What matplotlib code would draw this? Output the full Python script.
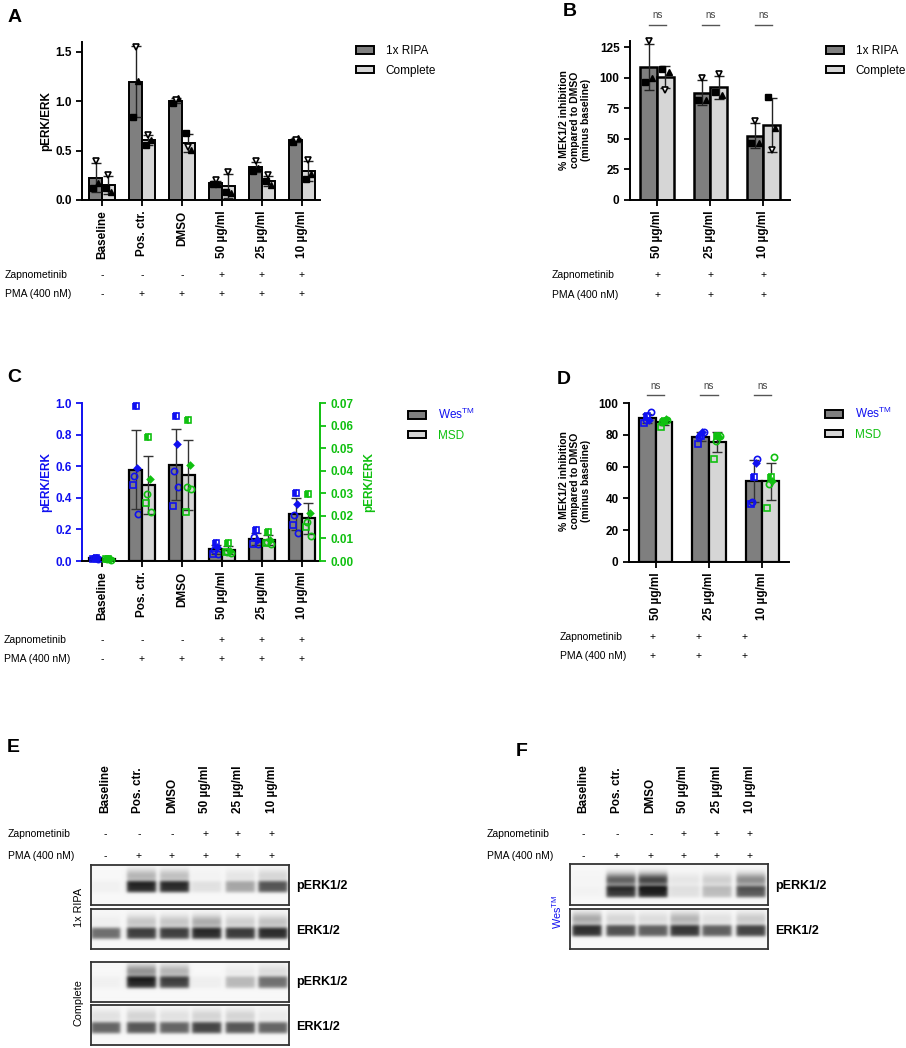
import numpy as np
import matplotlib
matplotlib.use('Agg')
import matplotlib.pyplot as plt
import matplotlib.transforms as mtransforms
from matplotlib.patches import Patch

plt.rcParams['font.family'] = ['Liberation Sans', 'DejaVu Sans']
plt.rcParams['mathtext.default'] = 'regular'

# ----------------------------- DATA -----------------------------
groups_A = ['Baseline', 'Pos. ctr.', 'DMSO', '50 µg/ml', '25 µg/ml', '10 µg/ml']
zap_A = ['-', '-', '-', '+', '+', '+']
pma_A = ['-', '+', '+', '+', '+', '+']

# Panel A: replicates (square, triangle-up, triangle-down)
A_ripa_sq = [0.12, 0.84, 0.98, 0.16, 0.29, 0.59]
A_ripa_up = [0.17, 1.21, 1.03, 0.16, 0.32, 0.63]
A_ripa_dn = [0.39, 1.55, 1.01, 0.20, 0.39, 0.61]
A_comp_sq = [0.12, 0.56, 0.68, 0.08, 0.19, 0.21]
A_comp_up = [0.08, 0.61, 0.51, 0.07, 0.15, 0.26]
A_comp_dn = [0.25, 0.66, 0.54, 0.28, 0.25, 0.41]

# Panel B
groups_B = ['50 µg/ml', '25 µg/ml', '10 µg/ml']
zap_B = ['+', '+', '+']
pma_B = ['+', '+', '+']
B_ripa_sq = [96.5, 81.5, 46.2]
B_ripa_up = [100.0, 82.0, 47.0]
B_ripa_dn = [130.4, 100.0, 64.7]
B_comp_sq = [107.0, 88.3, 84.2]
B_comp_up = [104.6, 85.6, 59.0]
B_comp_dn = [90.0, 103.0, 40.8]
B_sig = ['ns', 'ns', 'ns']

# Panel C: Wes (left axis) and MSD (right axis), 5 replicates per group
C_wes = [[0.022, 0.020, 0.018, 0.015, 0.010],
         [0.98, 0.59, 0.54, 0.48, 0.30],
         [0.92, 0.74, 0.57, 0.345, 0.47],
         [0.116, 0.090, 0.070, 0.044, 0.044],
         [0.197, 0.133, 0.154, 0.108, 0.108],
         [0.43, 0.36, 0.29, 0.23, 0.18]]
C_msd = [[0.0010, 0.0009, 0.0008, 0.0007, 0.0006],
         [0.0549, 0.0364, 0.0296, 0.0259, 0.0219],
         [0.0626, 0.0425, 0.0327, 0.0216, 0.0318],
         [0.0079, 0.0045, 0.0042, 0.0038, 0.0036],
         [0.0130, 0.0095, 0.0085, 0.0080, 0.0075],
         [0.0296, 0.0212, 0.0175, 0.0150, 0.0111]]

# Panel D
D_wes = [[91.6, 89.5, 89.0, 87.4, 94.1],
         [79.0, 81.5, 78.5, 74.1, 81.5],
         [53.3, 62.5, 37.9, 36.4, 64.8]]
D_msd = [[88.4, 90.1, 87.8, 84.8, 89.0],
         [79.0, 78.5, 75.8, 64.6, 79.0],
         [53.3, 51.2, 48.8, 34.1, 66.3]]
D_sig = ['ns', 'ns', 'ns']

# Blot band intensities (lower band, upper band) per lane
E_ripa_perk_low = [0.03, 0.92, 0.90, 0.10, 0.36, 0.72]
E_ripa_perk_up = [0.00, 0.30, 0.25, 0.02, 0.08, 0.15]
E_ripa_erk_low = [0.62, 0.82, 0.82, 0.90, 0.84, 0.90]
E_ripa_erk_up = [0.04, 0.22, 0.22, 0.34, 0.18, 0.24]
E_comp_perk_low = [0.03, 0.92, 0.80, 0.04, 0.28, 0.60]
E_comp_perk_up = [0.00, 0.45, 0.30, 0.00, 0.05, 0.12]
E_comp_erk_low = [0.66, 0.72, 0.66, 0.80, 0.72, 0.66]
E_comp_erk_up = [0.10, 0.16, 0.10, 0.16, 0.16, 0.06]
F_perk_low = [0.02, 0.85, 0.95, 0.10, 0.26, 0.70]
F_perk_up = [0.01, 0.68, 0.80, 0.08, 0.18, 0.48]
F_erk_low = [0.88, 0.75, 0.68, 0.85, 0.68, 0.80]
F_erk_up = [0.35, 0.15, 0.12, 0.30, 0.10, 0.20]

# ----------------------------- STYLE -----------------------------
W, H = 906, 1048
DARK = '#7f7f7f'
LIGHT = '#d6d6d6'
BLUE = '#1010f0'
GREEN = '#10c010'
fig = plt.figure(figsize=(W / 100, H / 100), dpi=100)


def rect(x0, y0, x1, y1):
    return [x0 / W, 1 - y1 / H, (x1 - x0) / W, (y1 - y0) / H]


def fy(y):
    return 1 - y / H


def ftext(x, y, s, **kw):
    fig.text(x / W, fy(y), s, **kw)


def style_axes(ax, lw=1.4):
    for s in ['top', 'right']:
        ax.spines[s].set_visible(False)
    for s in ['left', 'bottom']:
        ax.spines[s].set_linewidth(lw)
    ax.tick_params(axis='both', width=1.3, length=4, labelsize=8.5)
    for lab in ax.get_yticklabels() + ax.get_xticklabels():
        lab.set_fontweight('bold')


def sign_rows(ax, xs, zap, pma, y_zap, y_pma, label_x):
    tr = mtransforms.blended_transform_factory(ax.transData, fig.transFigure)
    ftext(label_x, y_zap, 'Zapnometinib', fontsize=7.5, va='center', ha='left')
    ftext(label_x, y_pma, 'PMA (400 nM)', fontsize=7.5, va='center', ha='left')
    for x, z, p in zip(xs, zap, pma):
        ax.text(x, fy(y_zap), z, transform=tr, ha='center', va='center', fontsize=7.5)
        ax.text(x, fy(y_pma), p, transform=tr, ha='center', va='center', fontsize=7.5)


def sig_marks(ax, xs, labels, y_txt, y_line, half=0.16):
    tr = mtransforms.blended_transform_factory(ax.transData, fig.transFigure)
    for x, s in zip(xs, labels):
        ax.text(x, fy(y_txt), s, transform=tr, ha='center', va='center', fontsize=7, color='#444')
        ax.plot([x - half, x + half], [fy(y_line)] * 2, transform=tr, color='#555', lw=1.0, clip_on=False)


def tri_points(ax, x, sq, up, dn, dx):
    ax.plot(x - dx, sq, 's', ms=4, color='black', zorder=5, clip_on=False)
    ax.plot(x + dx, up, '^', ms=4, color='black', zorder=5, clip_on=False)
    ax.plot(x, dn, 'v', ms=5, mfc='white', mec='black', mew=1.2, zorder=5, clip_on=False)


def bars_tri(ax, xs, w, series, color, sign):
    sq, up, dn = [np.array(s) for s in series]
    vals = np.vstack([sq, up, dn])
    mean = vals.mean(axis=0)
    sd = vals.std(axis=0, ddof=1)
    pos = xs + sign * w / 2
    ax.bar(pos, mean, w, color=color, edgecolor='black', linewidth=1.4, zorder=2)
    ax.errorbar(pos, mean, yerr=sd, fmt='none', ecolor='#222', elinewidth=1.0, capsize=3.5, capthick=1.0, zorder=4)
    for i, p in enumerate(pos):
        tri_points(ax, p, sq[i], up[i], dn[i], w * 0.22)


MARKERS = [dict(marker='s', fillstyle='left', ms=4.2),
           dict(marker='D', fillstyle='full', ms=3.2),
           dict(marker='o', fillstyle='none', ms=4.5),
           dict(marker='s', fillstyle='none', ms=4.5),
           dict(marker='o', fillstyle='none', ms=4.5)]
JIT = [0.0, 0.03, -0.03, -0.06, 0.06]


def bars_multi(ax, xs, w, data, color, mcolor, sign, jitter=True):
    arr = np.array(data)
    mean = arr.mean(axis=1)
    sd = arr.std(axis=1, ddof=1)
    pos = xs + sign * w / 2
    ax.bar(pos, mean, w, color=color, edgecolor='black', linewidth=1.6, zorder=2)
    ax.errorbar(pos, mean, yerr=sd, fmt='none', ecolor='#333', elinewidth=1.0, capsize=3.5, capthick=1.0, zorder=4)
    for i, p in enumerate(pos):
        for j, v in enumerate(arr[i]):
            st = MARKERS[j]
            ax.plot(p + (JIT[j] if jitter else 0), v, linestyle='none', marker=st['marker'],
                    fillstyle=st['fillstyle'], ms=st['ms'], color=mcolor, mec=mcolor,
                    mfc=mcolor, markerfacecoloralt='white', mew=1.2, zorder=5, clip_on=False)
    return ax


def legend(ax, labels, colors, x, y, textcolors=None):
    handles = [Patch(facecolor=c, edgecolor='black', linewidth=1.4) for c in colors]
    lg = ax.legend(handles, labels, loc='upper left', bbox_to_anchor=(x / W, fy(y)),
                   bbox_transform=fig.transFigure, frameon=False, fontsize=8.5,
                   handlelength=1.5, handleheight=0.6, handletextpad=1.0,
                   labelspacing=0.65, borderpad=0, borderaxespad=0)
    if textcolors:
        for t, c in zip(lg.get_texts(), textcolors):
            t.set_color(c)
    return lg


# ----------------------------- PANEL A -----------------------------
axA = fig.add_axes(rect(82, 42, 320, 200))
xA = np.arange(len(groups_A))
wA = 0.32
bars_tri(axA, xA, wA, [A_ripa_sq, A_ripa_up, A_ripa_dn], DARK, -1)
bars_tri(axA, xA, wA, [A_comp_sq, A_comp_up, A_comp_dn], LIGHT, 1)
axA.set_xlim(-0.5, 5.45)
axA.set_ylim(0, 1.6)
axA.set_yticks([0, 0.5, 1.0, 1.5])
axA.set_yticklabels(['0.0', '0.5', '1.0', '1.5'])
axA.set_xticks(xA)
axA.set_xticklabels(groups_A, rotation=90)
style_axes(axA)
ftext(46, 121, 'pERK/ERK', rotation=90, ha='center', va='center', fontsize=8.5, fontweight='bold')
legend(axA, ['1x RIPA', 'Complete'], [DARK, LIGHT], 356, 45)
sign_rows(axA, xA, zap_A, pma_A, 275, 294, 5)
ftext(15, 17, 'A', fontsize=14, fontweight='bold', ha='center', va='center')

# ----------------------------- PANEL B -----------------------------
axB = fig.add_axes(rect(630, 41, 790, 200))
xB = np.arange(len(groups_B))
wB = 0.315
bars_tri(axB, xB, wB, [B_ripa_sq, B_ripa_up, B_ripa_dn], DARK, -1)
bars_tri(axB, xB, wB, [B_comp_sq, B_comp_up, B_comp_dn], LIGHT, 1)
axB.set_xlim(-0.51, 2.5)
axB.set_ylim(0, 130)
axB.set_yticks([0, 25, 50, 75, 100, 125])
axB.set_xticks(xB)
axB.set_xticklabels(groups_B, rotation=90)
style_axes(axB)
for b in axB.patches:
    b.set_linewidth(1.8)
ftext(575, 120, '% MEK1/2 inhibition\ncompared to DMSO\n(minus baseline)', rotation=90,
      ha='center', va='center', fontsize=7.5, fontweight='bold', linespacing=1.15)
legend(axB, ['1x RIPA', 'Complete'], [DARK, LIGHT], 826, 45)
sign_rows(axB, xB, zap_B, pma_B, 275, 295, 552)
sig_marks(axB, xB, B_sig, 15, 25)
ftext(570, 11, 'B', fontsize=14, fontweight='bold', ha='center', va='center')

# ----------------------------- PANEL C -----------------------------
axC = fig.add_axes(rect(82, 403, 320, 561))
xC = np.arange(len(groups_A))
wC = 0.32
axC2 = axC.twinx()
bars_multi(axC, xC, wC, C_wes, DARK, BLUE, -1)
bars_multi(axC2, xC, wC, C_msd, LIGHT, GREEN, 1)
axC.set_xlim(-0.5, 5.45)
axC.set_ylim(0, 1.0)
axC2.set_ylim(0, 0.07)
axC.set_yticks(np.arange(0, 1.01, 0.2))
axC.set_yticklabels(['0.0', '0.2', '0.4', '0.6', '0.8', '1.0'])
axC2.set_yticks(np.arange(0, 0.0701, 0.01))
axC2.set_yticklabels(['0.00', '0.01', '0.02', '0.03', '0.04', '0.05', '0.06', '0.07'])
axC.set_xticks(xC)
axC.set_xticklabels(groups_A, rotation=90)
style_axes(axC)
axC.spines['left'].set_color(BLUE)
axC.tick_params(axis='y', colors=BLUE)
for s in ['top', 'left', 'bottom']:
    axC2.spines[s].set_visible(False)
axC2.spines['right'].set_color(GREEN)
axC2.spines['right'].set_linewidth(1.4)
axC2.tick_params(axis='y', colors=GREEN, width=1.3, length=4, labelsize=8.5)
for lab in axC2.get_yticklabels():
    lab.set_fontweight('bold')
ftext(46, 482, 'pERK/ERK', rotation=90, ha='center', va='center', fontsize=8.5,
      fontweight='bold', color=BLUE)
ftext(369, 482, 'pERK/ERK', rotation=90, ha='center', va='center', fontsize=8.5,
      fontweight='bold', color=GREEN)
legend(axC2, ['Wes$^{TM}$', 'MSD'], [DARK, LIGHT], 408, 407, textcolors=[BLUE, GREEN])
sign_rows(axC, xC, zap_A, pma_A, 640, 659, 4)
ftext(14, 378, 'C', fontsize=14, fontweight='bold', ha='center', va='center')

# ----------------------------- PANEL D -----------------------------
axD = fig.add_axes(rect(629, 403, 789, 562))
xD = np.arange(len(groups_B))
wD = 0.31
bars_multi(axD, xD, wD, D_wes, DARK, BLUE, -1)
bars_multi(axD, xD, wD, D_msd, LIGHT, GREEN, 1)
axD.set_xlim(-0.5, 2.5)
axD.set_ylim(0, 100)
axD.set_yticks([0, 20, 40, 60, 80, 100])
axD.set_xticks(xD)
axD.set_xticklabels(groups_B, rotation=90)
style_axes(axD)
ftext(575, 481, '% MEK1/2 inhibition\ncompared to DMSO\n(minus baseline)', rotation=90,
      ha='center', va='center', fontsize=7.5, fontweight='bold', linespacing=1.15)
legend(axD, ['Wes$^{TM}$', 'MSD'], [DARK, LIGHT], 825, 406, textcolors=[BLUE, GREEN])
sig_marks(axD, xD, D_sig, 386, 395)
ftext(560, 637, 'Zapnometinib', fontsize=7.5, va='center', ha='left')
ftext(560, 656, 'PMA (400 nM)', fontsize=7.5, va='center', ha='left')
for xp, z, p in zip([653, 699, 745], zap_B, pma_B):
    ftext(xp, 637, z, fontsize=7.5, ha='center', va='center')
    ftext(xp, 656, p, fontsize=7.5, ha='center', va='center')
ftext(564, 380, 'D', fontsize=14, fontweight='bold', ha='center', va='center')


# ----------------------------- BLOTS -----------------------------
def blot(x0, y0, x1, y1, lane_c, low, up, y_low, y_up, lane_w=29):
    w, h = x1 - x0, y1 - y0
    ax = fig.add_axes(rect(x0, y0, x1, y1))
    s = 3
    xs = (np.arange(w * s) + 0.5) / s
    ys = (np.arange(h * s) + 0.5) / s
    img = np.zeros((len(ys), len(xs)))
    for xc, a, b in zip(lane_c, low, up):
        hm = 1 / (1 + np.exp((np.abs(xs - xc) - lane_w / 2) / 1.0))
        vp = (a * np.exp(-0.5 * (np.abs(ys - y_low) / 5.0) ** 4)
              + b * np.exp(-0.5 * (np.abs(ys - y_up) / 4.8) ** 2))
        img += np.outer(vp, hm)
    img = np.clip(img, 0, 1)
    gray = 0.97 - 0.86 * img
    ax.imshow(gray, cmap='gray', vmin=0, vmax=1, aspect='auto', extent=[0, w, h, 0],
              interpolation='bilinear')
    ax.set_xticks([])
    ax.set_yticks([])
    for sp in ax.spines.values():
        sp.set_linewidth(1.3)
        sp.set_color('#333333')
    return ax


E_lane_px = [105.8, 141.5, 174.5, 206.7, 240.3, 273]
E_lane_rel = [p - 91 for p in E_lane_px]
for xp, g in zip([105, 138, 172, 205, 238, 272], groups_A):
    ftext(xp, 813, g, rotation=90, ha='center', va='bottom', fontsize=8.5, fontweight='bold')
ftext(8, 834, 'Zapnometinib', fontsize=7.5, va='center', ha='left')
ftext(8, 856, 'PMA (400 nM)', fontsize=7.5, va='center', ha='left')
for xp, z, p in zip([105, 139, 172, 206, 238, 272], zap_A, pma_A):
    ftext(xp, 834, z, fontsize=7.5, ha='center', va='center')
    ftext(xp, 856, p, fontsize=7.5, ha='center', va='center')

blot(91, 865, 289, 905, E_lane_rel, E_ripa_perk_low, E_ripa_perk_up, 21.7, 11)
blot(91, 909, 289, 949, E_lane_rel, E_ripa_erk_low, E_ripa_erk_up, 24.3, 13)
blot(91, 962, 289, 1002, E_lane_rel, E_comp_perk_low, E_comp_perk_up, 20.7, 10)
blot(91, 1005, 289, 1045, E_lane_rel, E_comp_erk_low, E_comp_erk_up, 22.7, 11)
for yy, t in [(886, 'pERK1/2'), (931, 'ERK1/2'), (982, 'pERK1/2'), (1027, 'ERK1/2')]:
    ftext(296, yy, t, fontsize=9, fontweight='bold', va='center', ha='left')
ftext(79, 907, '1x RIPA', rotation=90, fontsize=7.8, ha='center', va='center')
ftext(79, 1003, 'Complete', rotation=90, fontsize=7.8, ha='center', va='center')
ftext(13, 747, 'E', fontsize=14, fontweight='bold', ha='center', va='center')

F_lane_px = [587, 621, 653, 685, 717, 751]
F_lane_rel = [p - 570 for p in F_lane_px]
for xp, g in zip([583, 617, 650, 683, 717, 750], groups_A):
    ftext(xp, 813, g, rotation=90, ha='center', va='bottom', fontsize=8.5, fontweight='bold')
ftext(487, 834, 'Zapnometinib', fontsize=7.5, va='center', ha='left')
ftext(487, 856, 'PMA (400 nM)', fontsize=7.5, va='center', ha='left')
for xp, z, p in zip([583, 617, 651, 684, 717, 750], zap_A, pma_A):
    ftext(xp, 834, z, fontsize=7.5, ha='center', va='center')
    ftext(xp, 856, p, fontsize=7.5, ha='center', va='center')
blot(570, 864, 768, 905, F_lane_rel, F_perk_low, F_perk_up, 27.7, 16)
blot(570, 909, 768, 949, F_lane_rel, F_erk_low, F_erk_up, 21.7, 10)
ftext(775, 886, 'pERK1/2', fontsize=9, fontweight='bold', va='center', ha='left')
ftext(775, 931, 'ERK1/2', fontsize=9, fontweight='bold', va='center', ha='left')
ftext(557, 912, 'Wes$^{TM}$', rotation=90, fontsize=7.8, ha='center', va='center', color=BLUE)
ftext(522, 752, 'F', fontsize=14, fontweight='bold', ha='center', va='center')

fig.savefig('out.png', dpi=100)
